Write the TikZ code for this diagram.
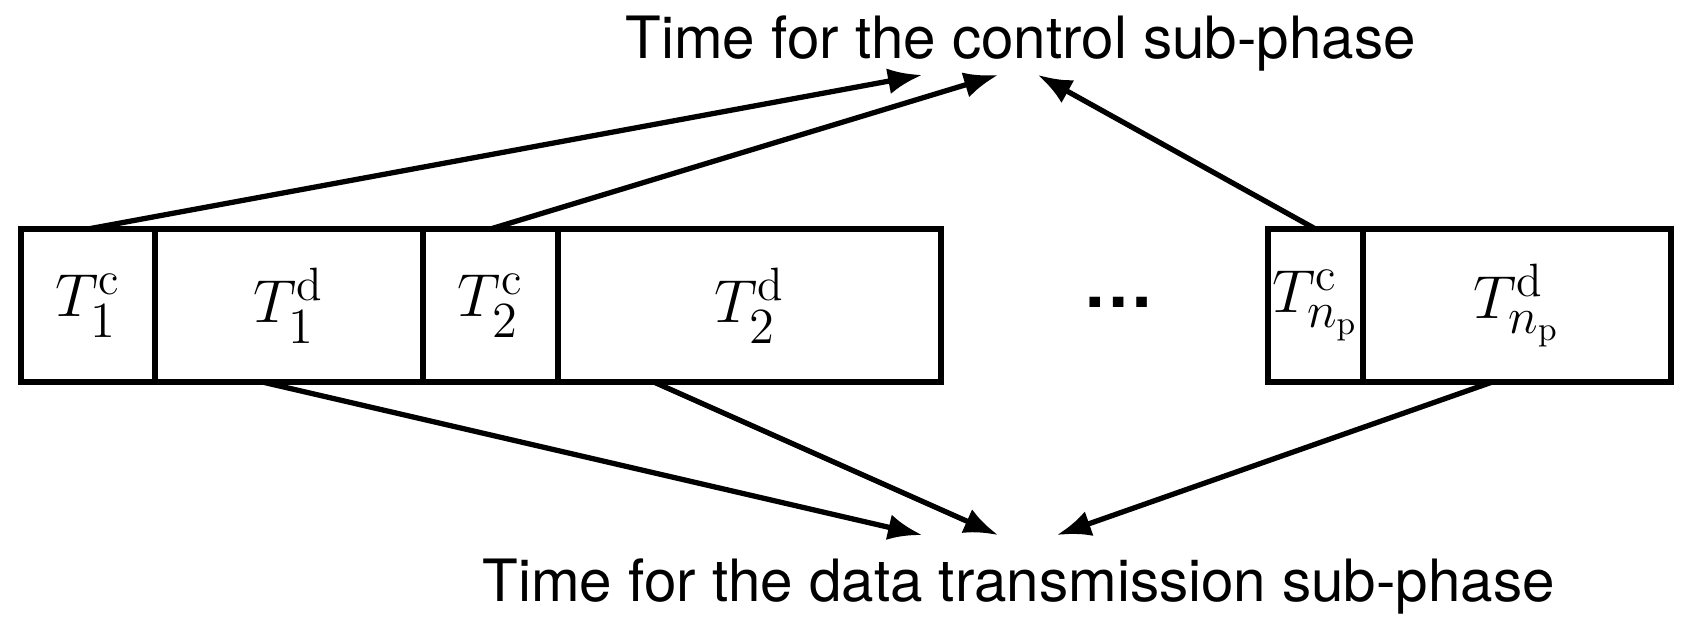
\documentclass[tikz,border=0pt]{standalone}
\usepackage{fontspec}
\newfontfamily\helv{TeX Gyre Heros}
\usepackage{amsmath}
\usetikzlibrary{arrows.meta}
\usetikzlibrary{calc,positioning}

\begin{document}
\begin{tikzpicture}[line width=1.5pt,>={Latex[length=0.34cm,width=0.26cm]},
  slot/.style={draw,inner sep=0pt,outer sep=0pt,minimum height=1.53cm,font=\fontsize{19}{23}\selectfont},
  lbl/.style={font=\helv\fontsize{16.6}{20}\selectfont,inner sep=0pt}]
  \useasboundingbox (0,0) rectangle (16.94,6.30);

  \node[slot,minimum width=1.34cm] (c1) at (0.88,3.245) {$T_1^{\mathrm{c}}$};
  \node[slot,minimum width=2.68cm] (d1) [right=0pt of c1] {$T_1^{\mathrm{d}}$};
  \node[slot,minimum width=1.35cm] (c2) [right=0pt of d1] {$T_2^{\mathrm{c}}$};
  \node[slot,minimum width=3.83cm] (d2) [right=0pt of c2] {$T_2^{\mathrm{d}}$};
  \node[lbl,font=\helv\bfseries\fontsize{20}{24}\selectfont] (dots) at (11.19,3.28) {\ldots};
  \node[slot,minimum width=0.95cm] (cn) at (13.155,3.245) {$T_{n_{\mathrm{p}}}^{\mathrm{c}}$};
  \node[slot,minimum width=3.08cm] (dn) [right=0pt of cn] {$T_{n_{\mathrm{p}}}^{\mathrm{d}}$};

  \node[lbl,anchor=base west] (ctrl) at (6.23,5.71) {Time for the control sub-phase};
  \node[lbl,anchor=base west] (data) at (4.80,0.28) {Time for the data transmission sub-phase};

  \coordinate (ct1) at (9.22,5.55);
  \coordinate (ct2) at (9.98,5.55);
  \coordinate (ct3) at (10.38,5.55);
  \coordinate (dt1) at (9.22,0.95);
  \coordinate (dt2) at (9.98,0.95);
  \coordinate (dt3) at (10.57,0.95);

  \path[->]
    (c1.north) edge (ct1)
    (c2.north) edge (ct2)
    (cn.north) edge (ct3)
    ($(d1.south west)!0.4!(d1.south east)$) edge (dt1)
    ($(d2.south west)!0.25!(d2.south east)$) edge (dt2)
    ($(dn.south west)!0.42!(dn.south east)$) edge (dt3);
\end{tikzpicture}
\end{document}
